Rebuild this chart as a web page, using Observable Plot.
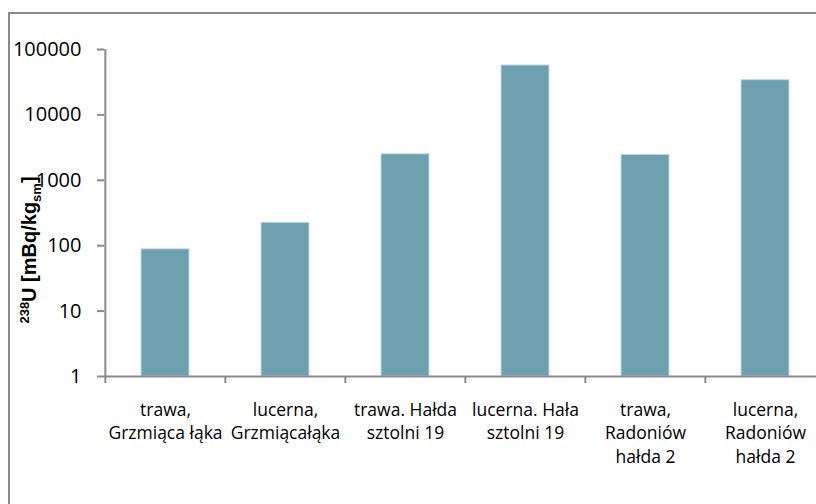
<!DOCTYPE html>
<html>
<head>
<meta charset="utf-8">
<script src="https://cdn.jsdelivr.net/npm/d3@7"></script>
<script src="https://cdn.jsdelivr.net/npm/@observablehq/plot@0.6"></script>
<style>
  html, body { margin: 0; padding: 0; background: #fff; overflow: hidden; }
  #wrap { position: relative; width: 816px; height: 504px; }
  #border { position: absolute; left: 8px; top: 12px; width: 900px; height: 600px;
            border-left: 2px solid #8a8a8a; border-top: 2px solid #8a8a8a; }
  #chart { position: absolute; left: 0; top: 0; }
</style>
</head>
<body>
<div id="wrap"><div id="border"></div><div id="chart"></div></div>
<script>
const categories = [
  "trawa, Grzmiąca łąka",
  "lucerna, Grzmiącałąka",
  "trawa. Hałda sztolni 19",
  "lucerna. Hała sztolni 19",
  "trawa, Radoniów hałda 2",
  "lucerna, Radoniów hałda 2"
];
const labels = [
  "trawa,\nGrzmiąca łąka",
  "lucerna,\nGrzmiącałąka",
  "trawa. Hałda\nsztolni 19",
  "lucerna. Hała\nsztolni 19",
  "trawa,\nRadoniów\nhałda 2",
  "lucerna,\nRadoniów\nhałda 2"
];
const values = [88, 224, 2500, 57000, 2450, 34000];
const yTicks = [1, 10, 100, 1000, 10000, 100000];

const data = categories.map((c, i) => ({cat: c, label: labels[i], value: values[i]}));
const halfBand = 722 / 6 / 2;

const chart = Plot.plot({
  width: 816,
  height: 504,
  marginTop: 49,
  marginBottom: 128,
  marginLeft: 104,
  marginRight: 0,
  style: {fontFamily: "'Open Sans', sans-serif", background: "transparent", overflow: "visible"},
  x: {type: "band", domain: categories, range: [104, 826], padding: 0},
  y: {type: "log", domain: [1, 100000], range: [376, 49]},
  marks: [
    Plot.barY(data, {x: "cat", y1: 1, y2: "value", fill: "#6FA0AF", stroke: "#c3dae1", strokeWidth: 1, insetLeft: 36, insetRight: 36}),
    Plot.ruleY([1], {stroke: "#8a8a8a", strokeWidth: 2}),
    Plot.ruleX([categories[0]], {x: d => d, dx: -halfBand, y1: 1, y2: 100000, stroke: "#8a8a8a", strokeWidth: 2}),
    Plot.axisY({ticks: yTicks, tickFormat: d => String(d), tickSize: 7, tickPadding: 16, fontSize: 20, stroke: "#8a8a8a", strokeWidth: 2, fill: "#000", label: null}),
    Plot.axisX({tickSize: 7, tickFormat: () => "", dx: -halfBand, stroke: "#8a8a8a", strokeWidth: 2, label: null}),
    Plot.text(data, {x: "cat", text: "label", frameAnchor: "bottom", lineAnchor: "top", dy: 22, fontSize: 17.5, lineHeight: 1.37, fill: "#000"})
  ]
});
document.getElementById("chart").appendChild(chart);

const svg = d3.select(chart);
const t = svg.append("text")
  .attr("transform", "translate(36,250) rotate(-90)")
  .attr("text-anchor", "middle")
  .attr("font-family", "'Liberation Sans', Arial, sans-serif")
  .attr("font-weight", "bold")
  .attr("font-size", 20)
  .attr("fill", "#000");
t.append("tspan").attr("font-size", 13).attr("dy", -7).text("238");
t.append("tspan").attr("dy", 7).text("U [mBq/kg");
t.append("tspan").attr("font-size", 13).attr("dy", 5).text("sm");
t.append("tspan").attr("dy", -5).text("]");
</script>
</body>
</html>
